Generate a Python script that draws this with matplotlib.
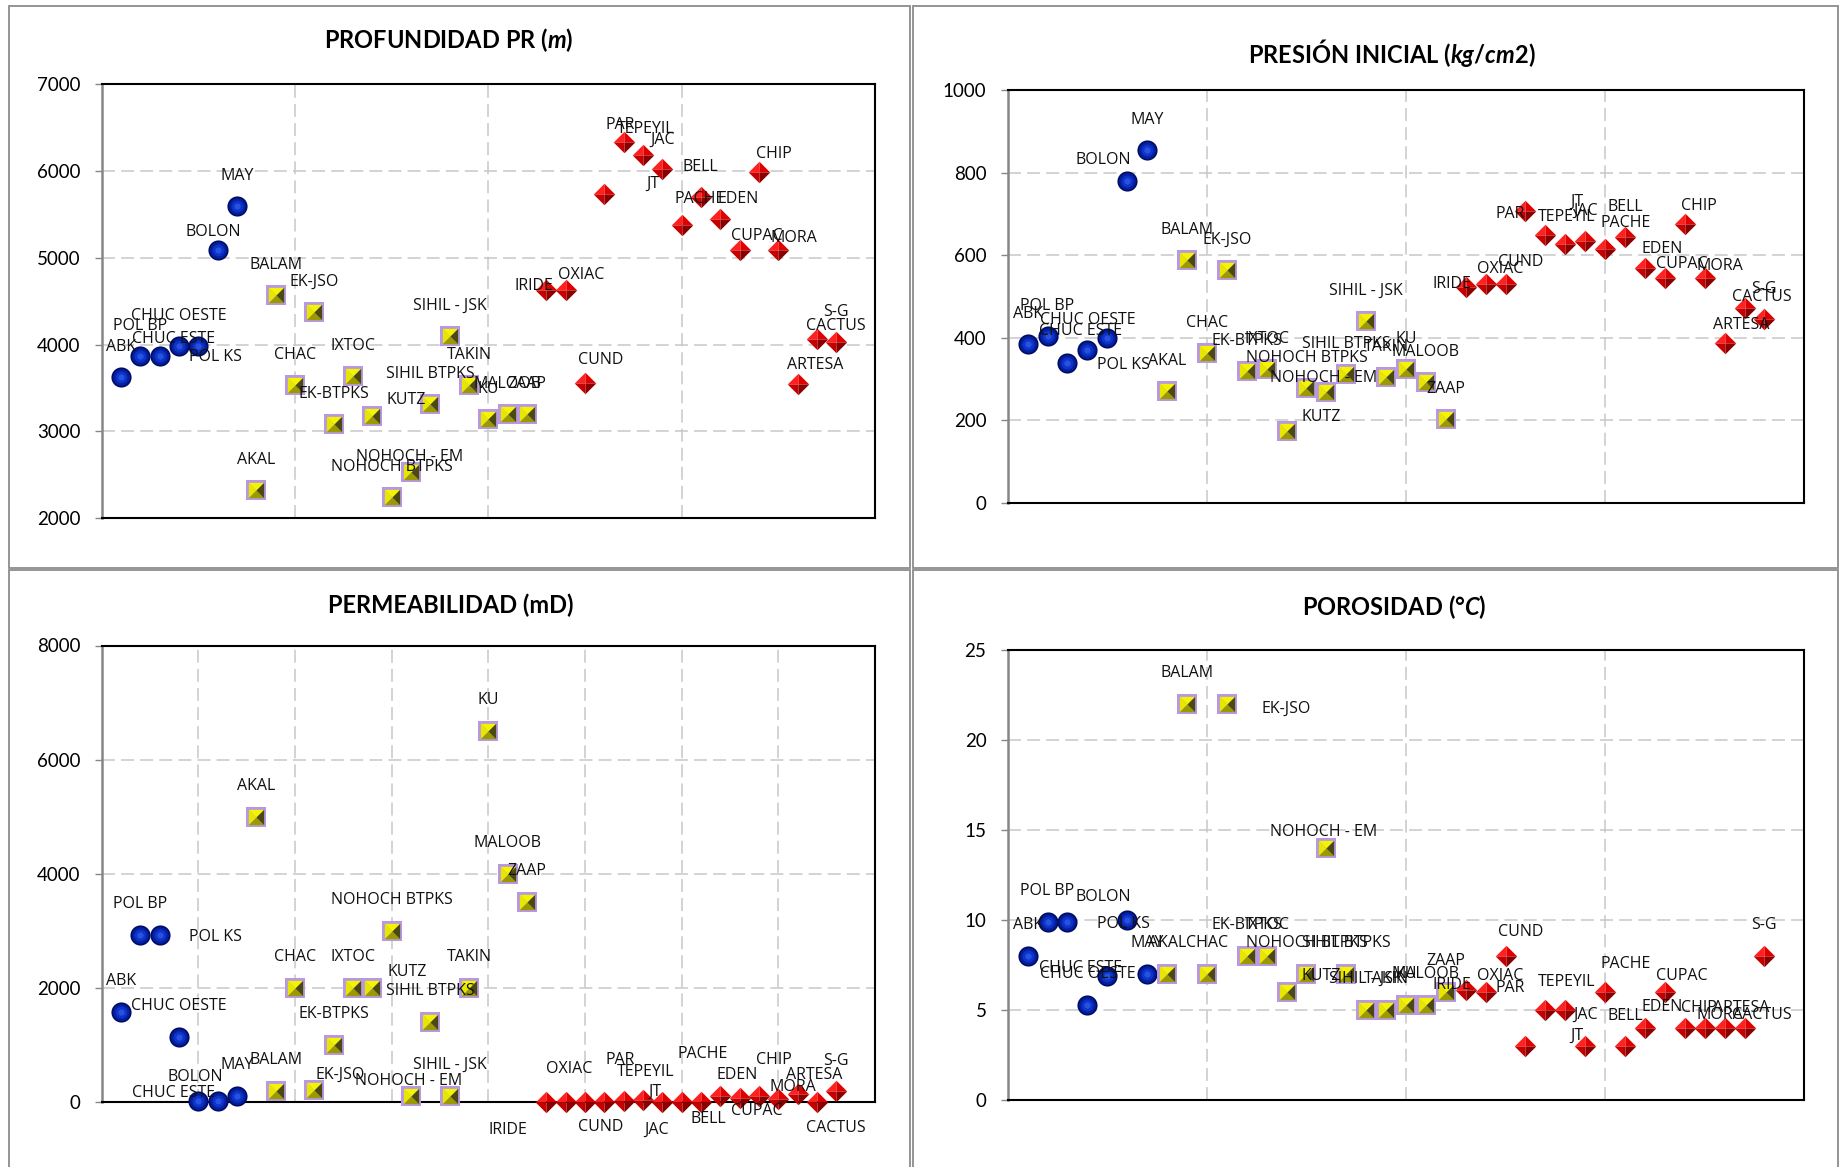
import numpy as np
import matplotlib.pyplot as plt
from matplotlib.patches import Rectangle

plt.rcParams['font.family'] = ['Lato', 'DejaVu Sans']
plt.rcParams['mathtext.fontset'] = 'custom'
plt.rcParams['mathtext.rm'] = 'Lato:bold'
plt.rcParams['mathtext.it'] = 'Lato:bold:italic'

# ========== DATOS ==========
campos = ['ABK', 'POL BP', 'POL KS', 'CHUC OESTE', 'CHUC ESTE', 'BOLON', 'MAY',
          'AKAL', 'BALAM', 'CHAC', 'EK-JSO', 'EK-BTPKS', 'IXTOC', 'KUTZ',
          'NOHOCH BTPKS', 'NOHOCH - EM', 'SIHIL BTPKS', 'SIHIL - JSK', 'TAKIN',
          'KU', 'MALOOB', 'ZAAP',
          'IRIDE', 'OXIAC', 'CUND', 'PAR', 'TEPEYIL', 'JT', 'JAC', 'BELL', 'PACHE',
          'EDEN', 'CUPAC', 'CHIP', 'MORA', 'ARTESA', 'S-G', 'CACTUS']
n_azul, n_amarillo, n_rojo = 7, 15, 16

profundidad = [3630, 3870, 3870, 3980, 3980, 5090, 5600,
               2330, 4570, 3540, 4380, 3090, 3640, 3180, 2250, 2530, 3320, 4100,
               3540, 3140, 3200, 3200,
               4630, 4630, 3560, 5740, 6340, 6190, 6020, 5380, 5700, 5450, 5090,
               5990, 5090, 3550, 4070, 4030]
presion = [385, 405, 338, 370, 400, 780, 855,
           270, 588, 363, 564, 320, 325, 174, 277, 269, 311, 440, 305, 323, 293, 204,
           523, 530, 530, 707, 649, 627, 634, 615, 645, 568, 544, 675, 544, 388, 471, 444]
permeabilidad = [1570, 2920, 2920, 1130, 10, 10, 100,
                 5000, 190, 2000, 200, 1000, 2000, 2000, 3000, 100, 1400, 100, 2000,
                 6500, 4000, 3500,
                 0, 0, 0, 0, 20, 30, 0, 0, 0, 100, 60, 110, 50, 130, 0, 190]
porosidad = [8, 9.9, 9.9, 5.3, 6.9, 10, 7,
             7, 22, 7, 22, 8, 8, 6, 7, 14, 7, 5, 5, 5.3, 5.3, 6,
             6.1, 6, 8, 3, 5, 5, 3, 6, 3, 4, 6, 4, 4, 4, 4, 8]

# desplazamiento de etiquetas (px, hacia abajo positivo); el resto va encima
etq_prof = {'POL KS': (56, 1), 'CHUC ESTE': (-25, -7), 'BOLON': (-4, -18),
            'KUTZ': (34, -16), 'NOHOCH - EM': (-1, -15), 'IRIDE': (-12, -4),
            'OXIAC': (16, -15), 'CUND': (16, -23), 'PAR': (16, -69),
            'TEPEYIL': (22, -13), 'JT': (10, 29), 'BELL': (19, -58),
            'PACHE': (-1, 2), 'EDEN': (18, -20), 'CUPAC': (17, -14),
            'CHIP': (15, -18), 'MORA': (16, -12), 'ARTESA': (18, -19),
            'S-G': (19, -27), 'CACTUS': (-1, -16)}
etq_pres = {'POL KS': (56, 2), 'CHUC ESTE': (-27, -7), 'BOLON': (-24, -21),
            'KUTZ': (35, -14), 'NOHOCH - EM': (-3, -14), 'IRIDE': (-14, -3),
            'OXIAC': (15, -15), 'CUND': (15, -22), 'PAR': (-15, 3),
            'TEPEYIL': (21, -18), 'JT': (11, -42), 'BELL': (20, -42),
            'PACHE': (1, -14), 'EDEN': (17, -19), 'CUPAC': (17, -14),
            'CHIP': (14, -18), 'MORA': (15, -12), 'ARTESA': (17, -18),
            'S-G': (19, -19), 'CACTUS': (-3, -22)}
etq_perm = {'POL KS': (56, 2), 'CHUC ESTE': (-25, -8), 'BOLON': (-22, -24),
            'EK-JSO': (26, -16), 'KUTZ': (35, -16), 'NOHOCH - EM': (-2, -15),
            'IRIDE': (-38, 28), 'OXIAC': (4, -33), 'CUND': (16, 25),
            'PAR': (16, -42), 'TEPEYIL': (22, -29), 'JT': (12, -8),
            'JAC': (-6, 28), 'BELL': (27, 17), 'PACHE': (2, -48),
            'EDEN': (17, -21), 'CUPAC': (17, 13), 'CHIP': (15, -36),
            'MORA': (15, -12), 'ARTESA': (17, -19), 'S-G': (19, -41),
            'CACTUS': (-1, 37)}
etq_poro = {'POL KS': (56, 2), 'CHUC ESTE': (-27, -8), 'BOLON': (-24, -23),
            'EK-JSO': (59, 5), 'KUTZ': (35, -16), 'NOHOCH - EM': (-3, -16),
            'IRIDE': (-14, -5), 'OXIAC': (15, -16), 'CUND': (15, -24),
            'PAR': (-15, -58), 'TEPEYIL': (21, -28), 'JT': (11, 26),
            'BELL': (20, 24), 'PACHE': (1, -82), 'EDEN': (17, -21),
            'CUPAC': (17, -16), 'CHIP': (14, -20), 'MORA': (15, -13),
            'ARTESA': (17, -20), 'S-G': (19, -103), 'CACTUS': (-3, 59)}

x = np.arange(1, len(campos) + 1)

# ========== FIGURA ==========
W, H = 1847, 1167
fig = plt.figure(figsize=(W / 100, H / 100), dpi=100)
PX = 0.72  # px -> puntos


def caja(x0, y0, x1, y1):
    return [x0 / W, 1 - y1 / H, (x1 - x0) / W, (y1 - y0) / H]


# marcos de cada grafica
for (x0, y0, x1, y1) in [(9, 6, 910, 568), (913, 6, 1838, 568),
                         (9, 570, 910, 1230), (913, 570, 1838, 1230)]:
    fig.patches.append(Rectangle((x0 / W, 1 - y1 / H), (x1 - x0) / W, (y1 - y0) / H,
                                 transform=fig.transFigure, fill=False,
                                 ec='#8c8c8c', lw=1.3))

# caras de los marcadores (efecto piramide)
cara_sup = [(-1, 1), (1, 1), (0, 0)]
cara_inf = [(-1, -1), (1, -1), (0, 0)]
cara_izq = [(-1, -1), (-1, 1), (0, 0)]
cara_der = [(1, -1), (1, 1), (0, 0)]
rombo_si = [(-1, 0), (0, 1), (0, 0)]
rombo_sd = [(1, 0), (0, 1), (0, 0)]
rombo_ii = [(-1, 0), (0, -1), (0, 0)]
rombo_id = [(1, 0), (0, -1), (0, 0)]


def puntos(ax, xs, ys, marcador, tam, color):
    ax.plot(xs, ys, ls='none', marker=marcador, ms=tam, mfc=color,
            mec='none', mew=0, zorder=4, clip_on=False)


def dibujar(ax, valores):
    v = np.array(valores, dtype=float)
    a = slice(0, n_azul)
    b = slice(n_azul, n_azul + n_amarillo)
    c = slice(n_azul + n_amarillo, len(v))
    # esferas azules
    puntos(ax, x[a], v[a], 'o', 14.5, '#000c66')
    puntos(ax, x[a], v[a], 'o', 12, '#0420a0')
    puntos(ax, x[a], v[a], 'o', 8.5, '#0c34c8')
    puntos(ax, x[a], v[a], 'o', 4.5, '#2a50e0')
    # cuadros amarillos
    puntos(ax, x[b], v[b], 's', 14, '#b898e0')
    puntos(ax, x[b], v[b], cara_sup, 11, '#f4f400')
    puntos(ax, x[b], v[b], cara_izq, 11, '#e6e600')
    puntos(ax, x[b], v[b], cara_inf, 11, '#9a9a00')
    puntos(ax, x[b], v[b], cara_der, 11, '#4a4a10')
    # rombos rojos
    puntos(ax, x[c], v[c], rombo_si, 15.5, '#ff2020')
    puntos(ax, x[c], v[c], rombo_sd, 15.5, '#e00000')
    puntos(ax, x[c], v[c], rombo_ii, 15.5, '#c40000')
    puntos(ax, x[c], v[c], rombo_id, 15.5, '#8a0000')


def etiquetas(ax, valores, desplaz, arriba):
    for nombre, xi, yi in zip(campos, x, valores):
        dx, dy = desplaz.get(nombre, (0, arriba))
        ax.annotate(nombre, (xi, yi), xytext=(dx * PX, -dy * PX),
                    textcoords='offset points', ha='center', va='center',
                    fontsize=11.5, family='Open Sans', color='#111111', zorder=6)


def preparar(ax, ymin, ymax, ypaso, xpaso):
    ax.set_xlim(0, 40)
    ax.set_ylim(ymin, ymax)
    ax.set_yticks(np.arange(ymin, ymax + ypaso / 2, ypaso))
    ax.set_xticks(np.arange(xpaso, 40, xpaso))
    ax.tick_params(axis='x', length=0, labelbottom=False)
    ax.tick_params(axis='y', direction='out', length=4.8, width=1,
                   color='#868686', pad=10.5, labelsize=13.5)
    ax.grid(True, color='#c8c8c8', lw=1.1, linestyle=(0, (8.5, 4)))
    ax.set_axisbelow(True)
    for lado in ['top', 'right', 'bottom']:
        ax.spines[lado].set_color('black')
        ax.spines[lado].set_linewidth(1.5)
    ax.spines['left'].set_color('#868686')
    ax.spines['left'].set_linewidth(1.8)


paneles = [
    (caja(101.7, 84.3, 875, 518.3), profundidad, 2000, 7000, 1000, 10, etq_prof, -30,
     r'PROFUNDIDAD PR ($\mathit{m}$)', (449, 40)),
    (caja(1007.7, 90, 1804.3, 502.7), presion, 0, 1000, 200, 10, etq_pres, -30,
     r'PRESIÓN INICIAL ($\mathit{kg/cm2}$)', (1392, 53)),
    (caja(101.7, 645.5, 875, 1101.8), permeabilidad, 0, 8000, 2000, 5, etq_perm, -31,
     'PERMEABILIDAD (mD)', (451, 605)),
    (caja(1007.7, 649.8, 1804.3, 1100), porosidad, 0, 25, 5, 10, etq_poro, -31,
     r'POROSIDAD ($\mathit{°C}$)', (1394, 607)),
]

for rect, valores, ymin, ymax, ypaso, xpaso, desplaz, arriba, titulo, pos in paneles:
    ax = fig.add_axes(rect)
    preparar(ax, ymin, ymax, ypaso, xpaso)
    dibujar(ax, valores)
    etiquetas(ax, valores, desplaz, arriba)
    fig.text(pos[0] / W, 1 - pos[1] / H, titulo, ha='center', va='center',
             fontsize=17, fontweight='bold', color='black')

fig.savefig('out.png', dpi=100, facecolor='white')
